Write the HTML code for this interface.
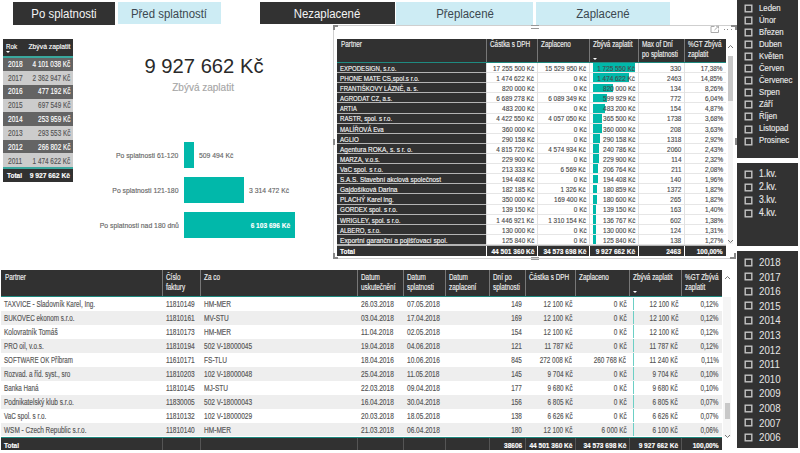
<!DOCTYPE html>
<html><head><meta charset="utf-8"><style>
html,body{margin:0;padding:0;}
body{width:800px;height:453px;position:relative;overflow:hidden;background:#ffffff;font-family:"Liberation Sans", sans-serif;}
body div{position:absolute;box-sizing:content-box;}
.t{white-space:nowrap;line-height:1.2;-webkit-text-stroke:0.15px currentColor;}
</style></head><body>
<div style="left:13.00px;top:2.00px;width:102.00px;height:22.50px;background:#323232;"></div>
<div class="t" style="left:-135.60px;width:400px;text-align:center;top:7.00px;font-size:12px;color:#f4f4f4;font-weight:400;transform:scaleX(0.95);transform-origin:50% 0;-webkit-text-stroke:0;">Po splatnosti</div>
<div style="left:117.50px;top:2.20px;width:103.00px;height:22.10px;background:#cdecf4;"></div>
<div class="t" style="left:-30.55px;width:400px;text-align:center;top:7.00px;font-size:12px;color:#3c4850;font-weight:400;transform:scaleX(0.95);transform-origin:50% 0;-webkit-text-stroke:0;">Před splatností</div>
<div style="left:259.50px;top:2.00px;width:135.00px;height:21.50px;background:#323232;"></div>
<div class="t" style="left:127.25px;width:400px;text-align:center;top:7.00px;font-size:12px;color:#f4f4f4;font-weight:400;transform:scaleX(0.95);transform-origin:50% 0;-webkit-text-stroke:0;">Nezaplacené</div>
<div style="left:396.00px;top:2.00px;width:136.50px;height:22.50px;background:#cdecf4;"></div>
<div class="t" style="left:265.00px;width:400px;text-align:center;top:7.00px;font-size:12px;color:#3c4850;font-weight:400;transform:scaleX(0.95);transform-origin:50% 0;-webkit-text-stroke:0;">Přeplacené</div>
<div style="left:535.75px;top:2.00px;width:134.25px;height:22.50px;background:#cdecf4;"></div>
<div class="t" style="left:402.50px;width:400px;text-align:center;top:7.00px;font-size:12px;color:#3c4850;font-weight:400;transform:scaleX(0.95);transform-origin:50% 0;-webkit-text-stroke:0;">Zaplacené</div>
<div style="left:3.00px;top:39.00px;width:70.00px;height:17.20px;background:#313131;"></div>
<div class="t" style="left:6.00px;top:42.00px;font-size:8px;color:#fff;font-weight:400;transform:scaleX(0.78);transform-origin:0 0;">Rok</div>
<div style="left:6.20px;top:50.60px;width:0;height:0;border-left:2.5px solid transparent;border-right:2.5px solid transparent;border-top:2.6px solid #fff"></div>
<div class="t" style="right:729.50px;top:42.00px;font-size:8px;color:#fff;font-weight:400;transform:scaleX(0.85);transform-origin:100% 0;">Zbývá zaplatit</div>
<div style="left:3.00px;top:57.50px;width:70.00px;height:13.70px;background:#646464;"></div>
<div class="t" style="left:7.90px;top:60.00px;font-size:8.2px;color:#ffffff;font-weight:400;transform:scaleX(0.8);transform-origin:0 0;">2018</div>
<div class="t" style="right:729.50px;top:60.00px;font-size:8.2px;color:#ffffff;font-weight:400;transform:scaleX(0.78);transform-origin:100% 0;">4 101 038 Kč</div>
<div style="left:3.00px;top:71.20px;width:70.00px;height:13.70px;background:#cccccc;"></div>
<div class="t" style="left:7.90px;top:74.00px;font-size:8.2px;color:#555555;font-weight:400;transform:scaleX(0.8);transform-origin:0 0;">2017</div>
<div class="t" style="right:729.50px;top:74.00px;font-size:8.2px;color:#555555;font-weight:400;transform:scaleX(0.78);transform-origin:100% 0;">2 362 947 Kč</div>
<div style="left:3.00px;top:84.90px;width:70.00px;height:13.70px;background:#646464;"></div>
<div class="t" style="left:7.90px;top:87.00px;font-size:8.2px;color:#ffffff;font-weight:400;transform:scaleX(0.8);transform-origin:0 0;">2016</div>
<div class="t" style="right:729.50px;top:87.00px;font-size:8.2px;color:#ffffff;font-weight:400;transform:scaleX(0.78);transform-origin:100% 0;">477 192 Kč</div>
<div style="left:3.00px;top:98.60px;width:70.00px;height:13.70px;background:#cccccc;"></div>
<div class="t" style="left:7.90px;top:101.00px;font-size:8.2px;color:#555555;font-weight:400;transform:scaleX(0.8);transform-origin:0 0;">2015</div>
<div class="t" style="right:729.50px;top:101.00px;font-size:8.2px;color:#555555;font-weight:400;transform:scaleX(0.78);transform-origin:100% 0;">697 549 Kč</div>
<div style="left:3.00px;top:112.30px;width:70.00px;height:13.70px;background:#646464;"></div>
<div class="t" style="left:7.90px;top:115.00px;font-size:8.2px;color:#ffffff;font-weight:400;transform:scaleX(0.8);transform-origin:0 0;">2014</div>
<div class="t" style="right:729.50px;top:115.00px;font-size:8.2px;color:#ffffff;font-weight:400;transform:scaleX(0.78);transform-origin:100% 0;">253 959 Kč</div>
<div style="left:3.00px;top:126.00px;width:70.00px;height:13.70px;background:#cccccc;"></div>
<div class="t" style="left:7.90px;top:129.00px;font-size:8.2px;color:#555555;font-weight:400;transform:scaleX(0.8);transform-origin:0 0;">2013</div>
<div class="t" style="right:729.50px;top:129.00px;font-size:8.2px;color:#555555;font-weight:400;transform:scaleX(0.78);transform-origin:100% 0;">293 553 Kč</div>
<div style="left:3.00px;top:139.70px;width:70.00px;height:13.70px;background:#646464;"></div>
<div class="t" style="left:7.90px;top:143.00px;font-size:8.2px;color:#ffffff;font-weight:400;transform:scaleX(0.8);transform-origin:0 0;">2012</div>
<div class="t" style="right:729.50px;top:143.00px;font-size:8.2px;color:#ffffff;font-weight:400;transform:scaleX(0.78);transform-origin:100% 0;">266 802 Kč</div>
<div style="left:3.00px;top:153.40px;width:70.00px;height:13.70px;background:#cccccc;"></div>
<div class="t" style="left:7.90px;top:157.00px;font-size:8.2px;color:#555555;font-weight:400;transform:scaleX(0.8);transform-origin:0 0;">2011</div>
<div class="t" style="right:729.50px;top:157.00px;font-size:8.2px;color:#555555;font-weight:400;transform:scaleX(0.78);transform-origin:100% 0;">1 474 622 Kč</div>
<div style="left:3.00px;top:56.00px;width:70.00px;height:1.50px;background:#3aa89e;"></div>
<div style="left:3.00px;top:167.10px;width:70.00px;height:1.50px;background:#3aa89e;"></div>
<div style="left:3.00px;top:168.50px;width:70.00px;height:13.40px;background:#313131;"></div>
<div class="t" style="left:7.00px;top:171.00px;font-size:8px;color:#fff;font-weight:700;transform:scaleX(0.81);transform-origin:0 0;">Total</div>
<div class="t" style="right:729.50px;top:171.00px;font-size:8px;color:#fff;font-weight:700;transform:scaleX(0.84);transform-origin:100% 0;">9 927 662 Kč</div>
<div class="t" style="left:4.00px;width:400px;text-align:center;top:54.00px;font-size:20px;color:#2a2a2a;font-weight:400;transform:scaleX(1.01);transform-origin:50% 0;-webkit-text-stroke:0;">9 927 662 Kč</div>
<div class="t" style="left:3.10px;width:400px;text-align:center;top:82.00px;font-size:10px;color:#a6a6a6;font-weight:400;transform:scaleX(1.0);transform-origin:50% 0;">Zbývá zaplatit</div>
<div style="left:184.00px;top:141.60px;width:9.70px;height:26.00px;background:#01b8aa;"></div>
<div class="t" style="right:621.40px;top:151.00px;font-size:7.6px;color:#666;font-weight:400;transform:scaleX(0.9);transform-origin:100% 0;">Po splatnosti 61-120</div>
<div class="t" style="left:199.10px;top:151.00px;font-size:8px;color:#666;font-weight:400;transform:scaleX(0.85);transform-origin:0 0;">509 494 Kč</div>
<div style="left:184.00px;top:177.10px;width:59.80px;height:26.30px;background:#01b8aa;"></div>
<div class="t" style="right:621.40px;top:186.00px;font-size:7.6px;color:#666;font-weight:400;transform:scaleX(0.9);transform-origin:100% 0;">Po splatnosti 121-180</div>
<div class="t" style="left:249.20px;top:186.00px;font-size:8px;color:#666;font-weight:400;transform:scaleX(0.85);transform-origin:0 0;">3 314 472 Kč</div>
<div style="left:184.00px;top:211.80px;width:110.70px;height:26.20px;background:#01b8aa;"></div>
<div class="t" style="right:621.40px;top:221.00px;font-size:7.6px;color:#666;font-weight:400;transform:scaleX(0.9);transform-origin:100% 0;">Po splatnosti nad 180 dnů</div>
<div class="t" style="right:510.00px;top:221.00px;font-size:8px;color:#fff;font-weight:700;transform:scaleX(0.82);transform-origin:100% 0;">6 103 696 Kč</div>
<div style="left:333.00px;top:25.00px;width:1.00px;height:233.00px;background:#cfcfcf;"></div>
<div style="left:333.00px;top:25.00px;width:404.00px;height:1.00px;background:#cfcfcf;"></div>
<div style="left:333.00px;top:257.50px;width:402.00px;height:1.00px;background:#cfcfcf;"></div>
<div style="left:333.00px;top:25.00px;width:5.00px;height:2.00px;background:#888;"></div>
<div style="left:333.00px;top:25.00px;width:2.00px;height:5.00px;background:#888;"></div>
<div style="left:731.00px;top:25.00px;width:6.00px;height:2.00px;background:#888;"></div>
<div style="left:735.00px;top:25.00px;width:2.00px;height:5.00px;background:#888;"></div>
<div style="left:333.00px;top:253.00px;width:2.00px;height:5.00px;background:#888;"></div>
<div style="left:333.00px;top:256.50px;width:5.00px;height:2.00px;background:#888;"></div>
<div style="left:730.00px;top:256.50px;width:6.00px;height:2.00px;background:#888;"></div>
<div style="left:734.00px;top:253.00px;width:2.00px;height:5.00px;background:#888;"></div>
<div style="left:333.00px;top:138.50px;width:2.00px;height:6.50px;background:#888;"></div>
<div style="left:531.00px;top:24.50px;width:8.00px;height:1.20px;background:#999;"></div>
<div style="left:531.00px;top:27.50px;width:8.00px;height:1.20px;background:#999;"></div>
<div style="left:531.00px;top:256.50px;width:8.00px;height:1.20px;background:#999;"></div>
<div style="left:531.00px;top:259.00px;width:8.00px;height:1.20px;background:#999;"></div>
<div style="left:734.50px;top:138.00px;width:2.00px;height:7.00px;background:#888;"></div>
<svg style="position:absolute;left:710px;top:25px" width="10" height="9" viewBox="0 0 10 9"><path d="M4.5 1.5 H1 V7.5 H8.5 V4.5" fill="none" stroke="#aaa" stroke-width="1"/><path d="M4.5 5 L8.5 1.2 M6 1.2 H8.5 V3.5" fill="none" stroke="#aaa" stroke-width="1"/></svg>
<div style="left:723.50px;top:29.30px;width:1.20px;height:1.20px;background:#888;"></div>
<div style="left:727.00px;top:29.30px;width:1.20px;height:1.20px;background:#888;"></div>
<div style="left:730.50px;top:29.30px;width:1.20px;height:1.20px;background:#888;"></div>
<div style="left:337.00px;top:39.20px;width:389.00px;height:22.60px;background:#313131;"></div>
<div style="left:485.50px;top:39.20px;width:1.00px;height:22.60px;background:#777;"></div>
<div style="left:536.90px;top:39.20px;width:1.00px;height:22.60px;background:#777;"></div>
<div style="left:588.90px;top:39.20px;width:1.00px;height:22.60px;background:#777;"></div>
<div style="left:637.80px;top:39.20px;width:1.00px;height:22.60px;background:#777;"></div>
<div style="left:683.80px;top:39.20px;width:1.00px;height:22.60px;background:#777;"></div>
<div class="t" style="left:340.50px;top:40.00px;font-size:8.3px;color:#f0f0f0;font-weight:400;transform:scaleX(0.77);transform-origin:0 0;">Partner</div>
<div class="t" style="left:489.50px;top:40.00px;font-size:8.3px;color:#f0f0f0;font-weight:400;transform:scaleX(0.77);transform-origin:0 0;">Částka s DPH</div>
<div class="t" style="left:540.90px;top:40.00px;font-size:8.3px;color:#f0f0f0;font-weight:400;transform:scaleX(0.77);transform-origin:0 0;">Zaplaceno</div>
<div class="t" style="left:592.90px;top:40.00px;font-size:8.3px;color:#f0f0f0;font-weight:400;transform:scaleX(0.77);transform-origin:0 0;">Zbývá zaplatit</div>
<div class="t" style="left:641.80px;top:40.00px;font-size:8.3px;color:#f0f0f0;font-weight:400;transform:scaleX(0.77);transform-origin:0 0;">Max of Dní</div>
<div class="t" style="left:641.80px;top:50.00px;font-size:8.3px;color:#f0f0f0;font-weight:400;transform:scaleX(0.77);transform-origin:0 0;">po splatnosti</div>
<div class="t" style="left:687.80px;top:40.00px;font-size:8.3px;color:#f0f0f0;font-weight:400;transform:scaleX(0.77);transform-origin:0 0;">%GT Zbývá</div>
<div class="t" style="left:687.80px;top:50.00px;font-size:8.3px;color:#f0f0f0;font-weight:400;transform:scaleX(0.77);transform-origin:0 0;">zaplatit</div>
<div style="left:592.80px;top:58.00px;width:0;height:0;border-left:2.8px solid transparent;border-right:2.8px solid transparent;border-top:2.8px solid #fff"></div>
<div style="left:486.00px;top:63.00px;width:240.00px;height:181.98px;background:#ffffff;"></div>
<div style="left:337.00px;top:63.00px;width:149.00px;height:10.11px;background:#313131;"></div>
<div style="left:337.00px;top:72.11px;width:149.00px;height:1.00px;background:#b4b4b4;"></div>
<div style="left:486.00px;top:72.11px;width:240.00px;height:1.00px;background:#e6e6e6;"></div>
<div style="left:593.00px;top:63.30px;width:41.60px;height:8.81px;background:#01b8aa;"></div>
<div class="t" style="left:339.80px;top:64.00px;font-size:8.0px;color:#f6f6f6;font-weight:400;transform:scaleX(0.754);transform-origin:0 0;">EXPODESIGN, s.r.o.</div>
<div class="t" style="right:265.90px;top:64.00px;font-size:7.8px;color:#4a4a4a;font-weight:400;transform:scaleX(0.82);transform-origin:100% 0;">17 255 500 Kč</div>
<div class="t" style="right:213.90px;top:64.00px;font-size:7.8px;color:#4a4a4a;font-weight:400;transform:scaleX(0.82);transform-origin:100% 0;">15 529 950 Kč</div>
<div class="t" style="right:165.00px;top:64.00px;font-size:7.8px;color:#4a4a4a;font-weight:400;transform:scaleX(0.82);transform-origin:100% 0;">1 725 550 Kč</div>
<div class="t" style="right:119.00px;top:64.00px;font-size:7.8px;color:#4a4a4a;font-weight:400;transform:scaleX(0.82);transform-origin:100% 0;">330</div>
<div class="t" style="right:77.30px;top:64.00px;font-size:7.8px;color:#4a4a4a;font-weight:400;transform:scaleX(0.82);transform-origin:100% 0;">17,38%</div>
<div style="left:337.00px;top:73.11px;width:149.00px;height:10.11px;background:#313131;"></div>
<div style="left:337.00px;top:82.22px;width:149.00px;height:1.00px;background:#b4b4b4;"></div>
<div style="left:486.00px;top:82.22px;width:240.00px;height:1.00px;background:#e6e6e6;"></div>
<div style="left:593.00px;top:73.41px;width:35.55px;height:8.81px;background:#01b8aa;"></div>
<div class="t" style="left:339.80px;top:74.00px;font-size:8.0px;color:#f6f6f6;font-weight:400;transform:scaleX(0.777);transform-origin:0 0;">PHONE MATE CS,spol.s r.o.</div>
<div class="t" style="right:265.90px;top:74.00px;font-size:7.8px;color:#4a4a4a;font-weight:400;transform:scaleX(0.82);transform-origin:100% 0;">1 474 622 Kč</div>
<div class="t" style="right:213.90px;top:74.00px;font-size:7.8px;color:#4a4a4a;font-weight:400;transform:scaleX(0.82);transform-origin:100% 0;">0 Kč</div>
<div class="t" style="right:165.00px;top:74.00px;font-size:7.8px;color:#4a4a4a;font-weight:400;transform:scaleX(0.82);transform-origin:100% 0;">1 474 622 Kč</div>
<div class="t" style="right:119.00px;top:74.00px;font-size:7.8px;color:#4a4a4a;font-weight:400;transform:scaleX(0.82);transform-origin:100% 0;">2463</div>
<div class="t" style="right:77.30px;top:74.00px;font-size:7.8px;color:#4a4a4a;font-weight:400;transform:scaleX(0.82);transform-origin:100% 0;">14,85%</div>
<div style="left:337.00px;top:83.22px;width:149.00px;height:10.11px;background:#313131;"></div>
<div style="left:337.00px;top:92.33px;width:149.00px;height:1.00px;background:#b4b4b4;"></div>
<div style="left:486.00px;top:92.33px;width:240.00px;height:1.00px;background:#e6e6e6;"></div>
<div style="left:593.00px;top:83.52px;width:19.77px;height:8.81px;background:#01b8aa;"></div>
<div class="t" style="left:339.80px;top:84.00px;font-size:8.0px;color:#f6f6f6;font-weight:400;transform:scaleX(0.753);transform-origin:0 0;">FRANTIŠKOVY LÁZNĚ, a. s.</div>
<div class="t" style="right:265.90px;top:84.00px;font-size:7.8px;color:#4a4a4a;font-weight:400;transform:scaleX(0.82);transform-origin:100% 0;">820 000 Kč</div>
<div class="t" style="right:213.90px;top:84.00px;font-size:7.8px;color:#4a4a4a;font-weight:400;transform:scaleX(0.82);transform-origin:100% 0;">0 Kč</div>
<div class="t" style="right:165.00px;top:84.00px;font-size:7.8px;color:#4a4a4a;font-weight:400;transform:scaleX(0.82);transform-origin:100% 0;">820 000 Kč</div>
<div class="t" style="right:119.00px;top:84.00px;font-size:7.8px;color:#4a4a4a;font-weight:400;transform:scaleX(0.82);transform-origin:100% 0;">134</div>
<div class="t" style="right:77.30px;top:84.00px;font-size:7.8px;color:#4a4a4a;font-weight:400;transform:scaleX(0.82);transform-origin:100% 0;">8,26%</div>
<div style="left:337.00px;top:93.33px;width:149.00px;height:10.11px;background:#313131;"></div>
<div style="left:337.00px;top:102.44px;width:149.00px;height:1.00px;background:#b4b4b4;"></div>
<div style="left:486.00px;top:102.44px;width:240.00px;height:1.00px;background:#e6e6e6;"></div>
<div style="left:593.00px;top:93.63px;width:14.46px;height:8.81px;background:#01b8aa;"></div>
<div class="t" style="left:339.80px;top:94.00px;font-size:8.0px;color:#f6f6f6;font-weight:400;transform:scaleX(0.757);transform-origin:0 0;">AGRODAT CZ, a.s.</div>
<div class="t" style="right:265.90px;top:94.00px;font-size:7.8px;color:#4a4a4a;font-weight:400;transform:scaleX(0.82);transform-origin:100% 0;">6 689 278 Kč</div>
<div class="t" style="right:213.90px;top:94.00px;font-size:7.8px;color:#4a4a4a;font-weight:400;transform:scaleX(0.82);transform-origin:100% 0;">6 089 349 Kč</div>
<div class="t" style="right:165.00px;top:94.00px;font-size:7.8px;color:#4a4a4a;font-weight:400;transform:scaleX(0.82);transform-origin:100% 0;">599 929 Kč</div>
<div class="t" style="right:119.00px;top:94.00px;font-size:7.8px;color:#4a4a4a;font-weight:400;transform:scaleX(0.82);transform-origin:100% 0;">772</div>
<div class="t" style="right:77.30px;top:94.00px;font-size:7.8px;color:#4a4a4a;font-weight:400;transform:scaleX(0.82);transform-origin:100% 0;">6,04%</div>
<div style="left:337.00px;top:103.44px;width:149.00px;height:10.11px;background:#313131;"></div>
<div style="left:337.00px;top:112.55px;width:149.00px;height:1.00px;background:#b4b4b4;"></div>
<div style="left:486.00px;top:112.55px;width:240.00px;height:1.00px;background:#e6e6e6;"></div>
<div style="left:593.00px;top:103.74px;width:11.65px;height:8.81px;background:#01b8aa;"></div>
<div class="t" style="left:339.80px;top:104.00px;font-size:8.0px;color:#f6f6f6;font-weight:400;transform:scaleX(0.713);transform-origin:0 0;">ARTIA</div>
<div class="t" style="right:265.90px;top:104.00px;font-size:7.8px;color:#4a4a4a;font-weight:400;transform:scaleX(0.82);transform-origin:100% 0;">483 200 Kč</div>
<div class="t" style="right:213.90px;top:104.00px;font-size:7.8px;color:#4a4a4a;font-weight:400;transform:scaleX(0.82);transform-origin:100% 0;">0 Kč</div>
<div class="t" style="right:165.00px;top:104.00px;font-size:7.8px;color:#4a4a4a;font-weight:400;transform:scaleX(0.82);transform-origin:100% 0;">483 200 Kč</div>
<div class="t" style="right:119.00px;top:104.00px;font-size:7.8px;color:#4a4a4a;font-weight:400;transform:scaleX(0.82);transform-origin:100% 0;">154</div>
<div class="t" style="right:77.30px;top:104.00px;font-size:7.8px;color:#4a4a4a;font-weight:400;transform:scaleX(0.82);transform-origin:100% 0;">4,87%</div>
<div style="left:337.00px;top:113.55px;width:149.00px;height:10.11px;background:#313131;"></div>
<div style="left:337.00px;top:122.66px;width:149.00px;height:1.00px;background:#b4b4b4;"></div>
<div style="left:486.00px;top:122.66px;width:240.00px;height:1.00px;background:#e6e6e6;"></div>
<div style="left:593.00px;top:113.85px;width:8.81px;height:8.81px;background:#01b8aa;"></div>
<div class="t" style="left:339.80px;top:114.00px;font-size:8.0px;color:#f6f6f6;font-weight:400;transform:scaleX(0.768);transform-origin:0 0;">RASTR, spol. s r.o.</div>
<div class="t" style="right:265.90px;top:114.00px;font-size:7.8px;color:#4a4a4a;font-weight:400;transform:scaleX(0.82);transform-origin:100% 0;">4 422 550 Kč</div>
<div class="t" style="right:213.90px;top:114.00px;font-size:7.8px;color:#4a4a4a;font-weight:400;transform:scaleX(0.82);transform-origin:100% 0;">4 057 050 Kč</div>
<div class="t" style="right:165.00px;top:114.00px;font-size:7.8px;color:#4a4a4a;font-weight:400;transform:scaleX(0.82);transform-origin:100% 0;">365 500 Kč</div>
<div class="t" style="right:119.00px;top:114.00px;font-size:7.8px;color:#4a4a4a;font-weight:400;transform:scaleX(0.82);transform-origin:100% 0;">1738</div>
<div class="t" style="right:77.30px;top:114.00px;font-size:7.8px;color:#4a4a4a;font-weight:400;transform:scaleX(0.82);transform-origin:100% 0;">3,68%</div>
<div style="left:337.00px;top:123.66px;width:149.00px;height:10.11px;background:#313131;"></div>
<div style="left:337.00px;top:132.77px;width:149.00px;height:1.00px;background:#b4b4b4;"></div>
<div style="left:486.00px;top:132.77px;width:240.00px;height:1.00px;background:#e6e6e6;"></div>
<div style="left:593.00px;top:123.96px;width:8.68px;height:8.81px;background:#01b8aa;"></div>
<div class="t" style="left:339.80px;top:125.00px;font-size:8.0px;color:#f6f6f6;font-weight:400;transform:scaleX(0.762);transform-origin:0 0;">MALÍŘOVÁ Eva</div>
<div class="t" style="right:265.90px;top:125.00px;font-size:7.8px;color:#4a4a4a;font-weight:400;transform:scaleX(0.82);transform-origin:100% 0;">360 000 Kč</div>
<div class="t" style="right:213.90px;top:125.00px;font-size:7.8px;color:#4a4a4a;font-weight:400;transform:scaleX(0.82);transform-origin:100% 0;">0 Kč</div>
<div class="t" style="right:165.00px;top:125.00px;font-size:7.8px;color:#4a4a4a;font-weight:400;transform:scaleX(0.82);transform-origin:100% 0;">360 000 Kč</div>
<div class="t" style="right:119.00px;top:125.00px;font-size:7.8px;color:#4a4a4a;font-weight:400;transform:scaleX(0.82);transform-origin:100% 0;">208</div>
<div class="t" style="right:77.30px;top:125.00px;font-size:7.8px;color:#4a4a4a;font-weight:400;transform:scaleX(0.82);transform-origin:100% 0;">3,63%</div>
<div style="left:337.00px;top:133.77px;width:149.00px;height:10.11px;background:#313131;"></div>
<div style="left:337.00px;top:142.88px;width:149.00px;height:1.00px;background:#b4b4b4;"></div>
<div style="left:486.00px;top:142.88px;width:240.00px;height:1.00px;background:#e6e6e6;"></div>
<div style="left:593.00px;top:134.07px;width:7.00px;height:8.81px;background:#01b8aa;"></div>
<div class="t" style="left:339.80px;top:135.00px;font-size:8.0px;color:#f6f6f6;font-weight:400;transform:scaleX(0.771);transform-origin:0 0;">AGLIO</div>
<div class="t" style="right:265.90px;top:135.00px;font-size:7.8px;color:#4a4a4a;font-weight:400;transform:scaleX(0.82);transform-origin:100% 0;">290 158 Kč</div>
<div class="t" style="right:213.90px;top:135.00px;font-size:7.8px;color:#4a4a4a;font-weight:400;transform:scaleX(0.82);transform-origin:100% 0;">0 Kč</div>
<div class="t" style="right:165.00px;top:135.00px;font-size:7.8px;color:#4a4a4a;font-weight:400;transform:scaleX(0.82);transform-origin:100% 0;">290 158 Kč</div>
<div class="t" style="right:119.00px;top:135.00px;font-size:7.8px;color:#4a4a4a;font-weight:400;transform:scaleX(0.82);transform-origin:100% 0;">1318</div>
<div class="t" style="right:77.30px;top:135.00px;font-size:7.8px;color:#4a4a4a;font-weight:400;transform:scaleX(0.82);transform-origin:100% 0;">2,92%</div>
<div style="left:337.00px;top:143.88px;width:149.00px;height:10.11px;background:#313131;"></div>
<div style="left:337.00px;top:152.99px;width:149.00px;height:1.00px;background:#b4b4b4;"></div>
<div style="left:486.00px;top:152.99px;width:240.00px;height:1.00px;background:#e6e6e6;"></div>
<div style="left:593.00px;top:144.18px;width:5.80px;height:8.81px;background:#01b8aa;"></div>
<div class="t" style="left:339.80px;top:145.00px;font-size:8.0px;color:#f6f6f6;font-weight:400;transform:scaleX(0.808);transform-origin:0 0;">Agentura ROKA, s. s r. o.</div>
<div class="t" style="right:265.90px;top:145.00px;font-size:7.8px;color:#4a4a4a;font-weight:400;transform:scaleX(0.82);transform-origin:100% 0;">4 815 720 Kč</div>
<div class="t" style="right:213.90px;top:145.00px;font-size:7.8px;color:#4a4a4a;font-weight:400;transform:scaleX(0.82);transform-origin:100% 0;">4 574 934 Kč</div>
<div class="t" style="right:165.00px;top:145.00px;font-size:7.8px;color:#4a4a4a;font-weight:400;transform:scaleX(0.82);transform-origin:100% 0;">240 786 Kč</div>
<div class="t" style="right:119.00px;top:145.00px;font-size:7.8px;color:#4a4a4a;font-weight:400;transform:scaleX(0.82);transform-origin:100% 0;">2060</div>
<div class="t" style="right:77.30px;top:145.00px;font-size:7.8px;color:#4a4a4a;font-weight:400;transform:scaleX(0.82);transform-origin:100% 0;">2,43%</div>
<div style="left:337.00px;top:153.99px;width:149.00px;height:10.11px;background:#313131;"></div>
<div style="left:337.00px;top:163.10px;width:149.00px;height:1.00px;background:#b4b4b4;"></div>
<div style="left:486.00px;top:163.10px;width:240.00px;height:1.00px;background:#e6e6e6;"></div>
<div style="left:593.00px;top:154.29px;width:5.54px;height:8.81px;background:#01b8aa;"></div>
<div class="t" style="left:339.80px;top:155.00px;font-size:8.0px;color:#f6f6f6;font-weight:400;transform:scaleX(0.78);transform-origin:0 0;">MARZA, v.o.s.</div>
<div class="t" style="right:265.90px;top:155.00px;font-size:7.8px;color:#4a4a4a;font-weight:400;transform:scaleX(0.82);transform-origin:100% 0;">229 900 Kč</div>
<div class="t" style="right:213.90px;top:155.00px;font-size:7.8px;color:#4a4a4a;font-weight:400;transform:scaleX(0.82);transform-origin:100% 0;">0 Kč</div>
<div class="t" style="right:165.00px;top:155.00px;font-size:7.8px;color:#4a4a4a;font-weight:400;transform:scaleX(0.82);transform-origin:100% 0;">229 900 Kč</div>
<div class="t" style="right:119.00px;top:155.00px;font-size:7.8px;color:#4a4a4a;font-weight:400;transform:scaleX(0.82);transform-origin:100% 0;">114</div>
<div class="t" style="right:77.30px;top:155.00px;font-size:7.8px;color:#4a4a4a;font-weight:400;transform:scaleX(0.82);transform-origin:100% 0;">2,32%</div>
<div style="left:337.00px;top:164.10px;width:149.00px;height:10.11px;background:#313131;"></div>
<div style="left:337.00px;top:173.21px;width:149.00px;height:1.00px;background:#b4b4b4;"></div>
<div style="left:486.00px;top:173.21px;width:240.00px;height:1.00px;background:#e6e6e6;"></div>
<div style="left:593.00px;top:164.40px;width:4.98px;height:8.81px;background:#01b8aa;"></div>
<div class="t" style="left:339.80px;top:165.00px;font-size:8.0px;color:#f6f6f6;font-weight:400;transform:scaleX(0.804);transform-origin:0 0;">VaC spol. s r.o.</div>
<div class="t" style="right:265.90px;top:165.00px;font-size:7.8px;color:#4a4a4a;font-weight:400;transform:scaleX(0.82);transform-origin:100% 0;">213 333 Kč</div>
<div class="t" style="right:213.90px;top:165.00px;font-size:7.8px;color:#4a4a4a;font-weight:400;transform:scaleX(0.82);transform-origin:100% 0;">6 569 Kč</div>
<div class="t" style="right:165.00px;top:165.00px;font-size:7.8px;color:#4a4a4a;font-weight:400;transform:scaleX(0.82);transform-origin:100% 0;">206 764 Kč</div>
<div class="t" style="right:119.00px;top:165.00px;font-size:7.8px;color:#4a4a4a;font-weight:400;transform:scaleX(0.82);transform-origin:100% 0;">211</div>
<div class="t" style="right:77.30px;top:165.00px;font-size:7.8px;color:#4a4a4a;font-weight:400;transform:scaleX(0.82);transform-origin:100% 0;">2,08%</div>
<div style="left:337.00px;top:174.21px;width:149.00px;height:10.11px;background:#313131;"></div>
<div style="left:337.00px;top:183.32px;width:149.00px;height:1.00px;background:#b4b4b4;"></div>
<div style="left:486.00px;top:183.32px;width:240.00px;height:1.00px;background:#e6e6e6;"></div>
<div style="left:593.00px;top:174.51px;width:4.69px;height:8.81px;background:#01b8aa;"></div>
<div class="t" style="left:339.80px;top:175.00px;font-size:8.0px;color:#f6f6f6;font-weight:400;transform:scaleX(0.8);transform-origin:0 0;">S.A.S. Stavební akciová společnost</div>
<div class="t" style="right:265.90px;top:175.00px;font-size:7.8px;color:#4a4a4a;font-weight:400;transform:scaleX(0.82);transform-origin:100% 0;">194 408 Kč</div>
<div class="t" style="right:213.90px;top:175.00px;font-size:7.8px;color:#4a4a4a;font-weight:400;transform:scaleX(0.82);transform-origin:100% 0;">0 Kč</div>
<div class="t" style="right:165.00px;top:175.00px;font-size:7.8px;color:#4a4a4a;font-weight:400;transform:scaleX(0.82);transform-origin:100% 0;">194 408 Kč</div>
<div class="t" style="right:119.00px;top:175.00px;font-size:7.8px;color:#4a4a4a;font-weight:400;transform:scaleX(0.82);transform-origin:100% 0;">140</div>
<div class="t" style="right:77.30px;top:175.00px;font-size:7.8px;color:#4a4a4a;font-weight:400;transform:scaleX(0.82);transform-origin:100% 0;">1,96%</div>
<div style="left:337.00px;top:184.32px;width:149.00px;height:10.11px;background:#313131;"></div>
<div style="left:337.00px;top:193.43px;width:149.00px;height:1.00px;background:#b4b4b4;"></div>
<div style="left:486.00px;top:193.43px;width:240.00px;height:1.00px;background:#e6e6e6;"></div>
<div style="left:593.00px;top:184.62px;width:4.36px;height:8.81px;background:#01b8aa;"></div>
<div class="t" style="left:339.80px;top:185.00px;font-size:8.0px;color:#f6f6f6;font-weight:400;transform:scaleX(0.817);transform-origin:0 0;">Gajdošíková Darina</div>
<div class="t" style="right:265.90px;top:185.00px;font-size:7.8px;color:#4a4a4a;font-weight:400;transform:scaleX(0.82);transform-origin:100% 0;">182 185 Kč</div>
<div class="t" style="right:213.90px;top:185.00px;font-size:7.8px;color:#4a4a4a;font-weight:400;transform:scaleX(0.82);transform-origin:100% 0;">1 326 Kč</div>
<div class="t" style="right:165.00px;top:185.00px;font-size:7.8px;color:#4a4a4a;font-weight:400;transform:scaleX(0.82);transform-origin:100% 0;">180 859 Kč</div>
<div class="t" style="right:119.00px;top:185.00px;font-size:7.8px;color:#4a4a4a;font-weight:400;transform:scaleX(0.82);transform-origin:100% 0;">1372</div>
<div class="t" style="right:77.30px;top:185.00px;font-size:7.8px;color:#4a4a4a;font-weight:400;transform:scaleX(0.82);transform-origin:100% 0;">1,82%</div>
<div style="left:337.00px;top:194.43px;width:149.00px;height:10.11px;background:#313131;"></div>
<div style="left:337.00px;top:203.54px;width:149.00px;height:1.00px;background:#b4b4b4;"></div>
<div style="left:486.00px;top:203.54px;width:240.00px;height:1.00px;background:#e6e6e6;"></div>
<div style="left:593.00px;top:194.73px;width:4.35px;height:8.81px;background:#01b8aa;"></div>
<div class="t" style="left:339.80px;top:195.00px;font-size:8.0px;color:#f6f6f6;font-weight:400;transform:scaleX(0.791);transform-origin:0 0;">PLACHÝ Karel ing.</div>
<div class="t" style="right:265.90px;top:195.00px;font-size:7.8px;color:#4a4a4a;font-weight:400;transform:scaleX(0.82);transform-origin:100% 0;">350 000 Kč</div>
<div class="t" style="right:213.90px;top:195.00px;font-size:7.8px;color:#4a4a4a;font-weight:400;transform:scaleX(0.82);transform-origin:100% 0;">169 400 Kč</div>
<div class="t" style="right:165.00px;top:195.00px;font-size:7.8px;color:#4a4a4a;font-weight:400;transform:scaleX(0.82);transform-origin:100% 0;">180 600 Kč</div>
<div class="t" style="right:119.00px;top:195.00px;font-size:7.8px;color:#4a4a4a;font-weight:400;transform:scaleX(0.82);transform-origin:100% 0;">265</div>
<div class="t" style="right:77.30px;top:195.00px;font-size:7.8px;color:#4a4a4a;font-weight:400;transform:scaleX(0.82);transform-origin:100% 0;">1,82%</div>
<div style="left:337.00px;top:204.54px;width:149.00px;height:10.11px;background:#313131;"></div>
<div style="left:337.00px;top:213.65px;width:149.00px;height:1.00px;background:#b4b4b4;"></div>
<div style="left:486.00px;top:213.65px;width:240.00px;height:1.00px;background:#e6e6e6;"></div>
<div style="left:593.00px;top:204.84px;width:3.35px;height:8.81px;background:#01b8aa;"></div>
<div class="t" style="left:339.80px;top:205.00px;font-size:8.0px;color:#f6f6f6;font-weight:400;transform:scaleX(0.784);transform-origin:0 0;">GORDEX spol. s r.o.</div>
<div class="t" style="right:265.90px;top:205.00px;font-size:7.8px;color:#4a4a4a;font-weight:400;transform:scaleX(0.82);transform-origin:100% 0;">139 150 Kč</div>
<div class="t" style="right:213.90px;top:205.00px;font-size:7.8px;color:#4a4a4a;font-weight:400;transform:scaleX(0.82);transform-origin:100% 0;">0 Kč</div>
<div class="t" style="right:165.00px;top:205.00px;font-size:7.8px;color:#4a4a4a;font-weight:400;transform:scaleX(0.82);transform-origin:100% 0;">139 150 Kč</div>
<div class="t" style="right:119.00px;top:205.00px;font-size:7.8px;color:#4a4a4a;font-weight:400;transform:scaleX(0.82);transform-origin:100% 0;">163</div>
<div class="t" style="right:77.30px;top:205.00px;font-size:7.8px;color:#4a4a4a;font-weight:400;transform:scaleX(0.82);transform-origin:100% 0;">1,40%</div>
<div style="left:337.00px;top:214.65px;width:149.00px;height:10.11px;background:#313131;"></div>
<div style="left:337.00px;top:223.76px;width:149.00px;height:1.00px;background:#b4b4b4;"></div>
<div style="left:486.00px;top:223.76px;width:240.00px;height:1.00px;background:#e6e6e6;"></div>
<div style="left:593.00px;top:214.95px;width:3.30px;height:8.81px;background:#01b8aa;"></div>
<div class="t" style="left:339.80px;top:216.00px;font-size:8.0px;color:#f6f6f6;font-weight:400;transform:scaleX(0.788);transform-origin:0 0;">WRIGLEY, spol. s r.o.</div>
<div class="t" style="right:265.90px;top:216.00px;font-size:7.8px;color:#4a4a4a;font-weight:400;transform:scaleX(0.82);transform-origin:100% 0;">1 446 921 Kč</div>
<div class="t" style="right:213.90px;top:216.00px;font-size:7.8px;color:#4a4a4a;font-weight:400;transform:scaleX(0.82);transform-origin:100% 0;">1 310 154 Kč</div>
<div class="t" style="right:165.00px;top:216.00px;font-size:7.8px;color:#4a4a4a;font-weight:400;transform:scaleX(0.82);transform-origin:100% 0;">136 767 Kč</div>
<div class="t" style="right:119.00px;top:216.00px;font-size:7.8px;color:#4a4a4a;font-weight:400;transform:scaleX(0.82);transform-origin:100% 0;">602</div>
<div class="t" style="right:77.30px;top:216.00px;font-size:7.8px;color:#4a4a4a;font-weight:400;transform:scaleX(0.82);transform-origin:100% 0;">1,38%</div>
<div style="left:337.00px;top:224.76px;width:149.00px;height:10.11px;background:#313131;"></div>
<div style="left:337.00px;top:233.87px;width:149.00px;height:1.00px;background:#b4b4b4;"></div>
<div style="left:486.00px;top:233.87px;width:240.00px;height:1.00px;background:#e6e6e6;"></div>
<div style="left:593.00px;top:225.06px;width:3.13px;height:8.81px;background:#01b8aa;"></div>
<div class="t" style="left:339.80px;top:226.00px;font-size:8.0px;color:#f6f6f6;font-weight:400;transform:scaleX(0.752);transform-origin:0 0;">ALBERO, s.r.o.</div>
<div class="t" style="right:265.90px;top:226.00px;font-size:7.8px;color:#4a4a4a;font-weight:400;transform:scaleX(0.82);transform-origin:100% 0;">130 000 Kč</div>
<div class="t" style="right:213.90px;top:226.00px;font-size:7.8px;color:#4a4a4a;font-weight:400;transform:scaleX(0.82);transform-origin:100% 0;">0 Kč</div>
<div class="t" style="right:165.00px;top:226.00px;font-size:7.8px;color:#4a4a4a;font-weight:400;transform:scaleX(0.82);transform-origin:100% 0;">130 000 Kč</div>
<div class="t" style="right:119.00px;top:226.00px;font-size:7.8px;color:#4a4a4a;font-weight:400;transform:scaleX(0.82);transform-origin:100% 0;">124</div>
<div class="t" style="right:77.30px;top:226.00px;font-size:7.8px;color:#4a4a4a;font-weight:400;transform:scaleX(0.82);transform-origin:100% 0;">1,31%</div>
<div style="left:337.00px;top:234.87px;width:149.00px;height:10.11px;background:#313131;"></div>
<div style="left:337.00px;top:243.98px;width:149.00px;height:1.00px;background:#b4b4b4;"></div>
<div style="left:486.00px;top:243.98px;width:240.00px;height:1.00px;background:#e6e6e6;"></div>
<div style="left:593.00px;top:235.17px;width:3.03px;height:8.81px;background:#01b8aa;"></div>
<div class="t" style="left:339.80px;top:236.00px;font-size:8.0px;color:#f6f6f6;font-weight:400;transform:scaleX(0.829);transform-origin:0 0;">Exportní garanční a pojišťovací spol.</div>
<div class="t" style="right:265.90px;top:236.00px;font-size:7.8px;color:#4a4a4a;font-weight:400;transform:scaleX(0.82);transform-origin:100% 0;">125 840 Kč</div>
<div class="t" style="right:213.90px;top:236.00px;font-size:7.8px;color:#4a4a4a;font-weight:400;transform:scaleX(0.82);transform-origin:100% 0;">0 Kč</div>
<div class="t" style="right:165.00px;top:236.00px;font-size:7.8px;color:#4a4a4a;font-weight:400;transform:scaleX(0.82);transform-origin:100% 0;">125 840 Kč</div>
<div class="t" style="right:119.00px;top:236.00px;font-size:7.8px;color:#4a4a4a;font-weight:400;transform:scaleX(0.82);transform-origin:100% 0;">138</div>
<div class="t" style="right:77.30px;top:236.00px;font-size:7.8px;color:#4a4a4a;font-weight:400;transform:scaleX(0.82);transform-origin:100% 0;">1,27%</div>
<div style="left:485.50px;top:63.00px;width:1.00px;height:181.98px;background:#e2e2e2;"></div>
<div style="left:536.90px;top:63.00px;width:1.00px;height:181.98px;background:#e2e2e2;"></div>
<div style="left:588.90px;top:63.00px;width:1.00px;height:181.98px;background:#e2e2e2;"></div>
<div style="left:637.80px;top:63.00px;width:1.00px;height:181.98px;background:#e2e2e2;"></div>
<div style="left:683.80px;top:63.00px;width:1.00px;height:181.98px;background:#e2e2e2;"></div>
<div style="left:337.00px;top:61.80px;width:389.00px;height:1.00px;background:#1f8a80;"></div>
<div style="left:337.00px;top:245.00px;width:389.00px;height:1.30px;background:#b4b4b4;"></div>
<div style="left:337.00px;top:246.30px;width:149.00px;height:9.30px;background:#313131;"></div>
<div style="left:487.00px;top:246.30px;width:50.40px;height:9.30px;background:#313131;"></div>
<div style="left:538.40px;top:246.30px;width:51.00px;height:9.30px;background:#313131;"></div>
<div style="left:590.40px;top:246.30px;width:47.90px;height:9.30px;background:#313131;"></div>
<div style="left:639.30px;top:246.30px;width:45.00px;height:9.30px;background:#313131;"></div>
<div style="left:685.30px;top:246.30px;width:40.70px;height:9.30px;background:#313131;"></div>
<div class="t" style="left:339.80px;top:247.00px;font-size:8px;color:#fff;font-weight:700;transform:scaleX(0.81);transform-origin:0 0;">Total</div>
<div class="t" style="right:265.90px;top:247.00px;font-size:8px;color:#fff;font-weight:700;transform:scaleX(0.82);transform-origin:100% 0;">44 501 360 Kč</div>
<div class="t" style="right:213.90px;top:247.00px;font-size:8px;color:#fff;font-weight:700;transform:scaleX(0.82);transform-origin:100% 0;">34 573 698 Kč</div>
<div class="t" style="right:165.00px;top:247.00px;font-size:8px;color:#fff;font-weight:700;transform:scaleX(0.82);transform-origin:100% 0;">9 927 662 Kč</div>
<div class="t" style="right:119.00px;top:247.00px;font-size:8px;color:#fff;font-weight:700;transform:scaleX(0.82);transform-origin:100% 0;">2463</div>
<div class="t" style="right:77.30px;top:247.00px;font-size:8px;color:#fff;font-weight:700;transform:scaleX(0.82);transform-origin:100% 0;">100,00%</div>
<div style="left:727.60px;top:56.00px;width:5.50px;height:188.00px;background:#f3f3f3;"></div>
<div style="left:727.60px;top:56.00px;width:5.50px;height:45.00px;background:#c8c8c8;"></div>
<svg style="position:absolute;left:727px;top:44px" width="7" height="5" viewBox="0 0 7 5"><path d="M1 4 L3.5 1.5 L6 4" fill="none" stroke="#777" stroke-width="1"/></svg>
<svg style="position:absolute;left:727px;top:239px" width="7" height="5" viewBox="0 0 7 5"><path d="M1 1 L3.5 3.5 L6 1" fill="none" stroke="#777" stroke-width="1"/></svg>
<div style="left:1.00px;top:270.40px;width:721.00px;height:25.60px;background:#313131;"></div>
<div style="left:162.00px;top:270.40px;width:1.00px;height:25.60px;background:#777;"></div>
<div style="left:200.00px;top:270.40px;width:1.00px;height:25.60px;background:#777;"></div>
<div style="left:356.90px;top:270.40px;width:1.00px;height:25.60px;background:#777;"></div>
<div style="left:403.10px;top:270.40px;width:1.00px;height:25.60px;background:#777;"></div>
<div style="left:444.50px;top:270.40px;width:1.00px;height:25.60px;background:#777;"></div>
<div style="left:489.00px;top:270.40px;width:1.00px;height:25.60px;background:#777;"></div>
<div style="left:525.00px;top:270.40px;width:1.00px;height:25.60px;background:#777;"></div>
<div style="left:575.30px;top:270.40px;width:1.00px;height:25.60px;background:#777;"></div>
<div style="left:629.30px;top:270.40px;width:1.00px;height:25.60px;background:#777;"></div>
<div style="left:681.20px;top:270.40px;width:1.00px;height:25.60px;background:#777;"></div>
<div class="t" style="left:4.50px;top:273.00px;font-size:8.3px;color:#f0f0f0;font-weight:400;transform:scaleX(0.77);transform-origin:0 0;">Partner</div>
<div class="t" style="left:166.00px;top:273.00px;font-size:8.3px;color:#f0f0f0;font-weight:400;transform:scaleX(0.77);transform-origin:0 0;">Číslo</div>
<div class="t" style="left:166.00px;top:283.00px;font-size:8.3px;color:#f0f0f0;font-weight:400;transform:scaleX(0.77);transform-origin:0 0;">faktury</div>
<div class="t" style="left:204.00px;top:273.00px;font-size:8.3px;color:#f0f0f0;font-weight:400;transform:scaleX(0.77);transform-origin:0 0;">Za co</div>
<div class="t" style="left:360.90px;top:273.00px;font-size:8.3px;color:#f0f0f0;font-weight:400;transform:scaleX(0.77);transform-origin:0 0;">Datum</div>
<div class="t" style="left:360.90px;top:283.00px;font-size:8.3px;color:#f0f0f0;font-weight:400;transform:scaleX(0.77);transform-origin:0 0;">uskutečnění</div>
<div class="t" style="left:407.10px;top:273.00px;font-size:8.3px;color:#f0f0f0;font-weight:400;transform:scaleX(0.77);transform-origin:0 0;">Datum</div>
<div class="t" style="left:407.10px;top:283.00px;font-size:8.3px;color:#f0f0f0;font-weight:400;transform:scaleX(0.77);transform-origin:0 0;">splatnosti</div>
<div class="t" style="left:448.50px;top:273.00px;font-size:8.3px;color:#f0f0f0;font-weight:400;transform:scaleX(0.77);transform-origin:0 0;">Datum</div>
<div class="t" style="left:448.50px;top:283.00px;font-size:8.3px;color:#f0f0f0;font-weight:400;transform:scaleX(0.77);transform-origin:0 0;">zaplacení</div>
<div class="t" style="left:493.00px;top:273.00px;font-size:8.3px;color:#f0f0f0;font-weight:400;transform:scaleX(0.77);transform-origin:0 0;">Dní po</div>
<div class="t" style="left:493.00px;top:283.00px;font-size:8.3px;color:#f0f0f0;font-weight:400;transform:scaleX(0.77);transform-origin:0 0;">splatnosti</div>
<div class="t" style="left:529.00px;top:273.00px;font-size:8.3px;color:#f0f0f0;font-weight:400;transform:scaleX(0.77);transform-origin:0 0;">Částka s DPH</div>
<div class="t" style="left:579.30px;top:273.00px;font-size:8.3px;color:#f0f0f0;font-weight:400;transform:scaleX(0.77);transform-origin:0 0;">Zaplaceno</div>
<div class="t" style="left:633.30px;top:273.00px;font-size:8.3px;color:#f0f0f0;font-weight:400;transform:scaleX(0.77);transform-origin:0 0;">Zbývá zaplatit</div>
<div class="t" style="left:685.20px;top:273.00px;font-size:8.3px;color:#f0f0f0;font-weight:400;transform:scaleX(0.77);transform-origin:0 0;">%GT Zbývá</div>
<div class="t" style="left:685.20px;top:283.00px;font-size:8.3px;color:#f0f0f0;font-weight:400;transform:scaleX(0.77);transform-origin:0 0;">zaplatit</div>
<div style="left:633.00px;top:291.20px;width:0;height:0;border-left:2.8px solid transparent;border-right:2.8px solid transparent;border-top:2.8px solid #fff"></div>
<div style="left:1.00px;top:297.00px;width:721.00px;height:13.95px;background:#ffffff;"></div>
<div style="left:632.50px;top:297.50px;width:1.20px;height:12.95px;background:#6ccfc5;"></div>
<div class="t" style="left:4.20px;top:300.00px;font-size:8.3px;color:#555;font-weight:400;transform:scaleX(0.767);transform-origin:0 0;">TAXVICE - Sladovník Karel, Ing.</div>
<div class="t" style="left:166.00px;top:300.00px;font-size:8.3px;color:#555;font-weight:400;transform:scaleX(0.79);transform-origin:0 0;">11810149</div>
<div class="t" style="left:204.00px;top:300.00px;font-size:8.3px;color:#555;font-weight:400;transform:scaleX(0.79);transform-origin:0 0;">HM-MER</div>
<div class="t" style="left:360.90px;top:300.00px;font-size:8.3px;color:#555;font-weight:400;transform:scaleX(0.79);transform-origin:0 0;">26.03.2018</div>
<div class="t" style="left:407.10px;top:300.00px;font-size:8.3px;color:#555;font-weight:400;transform:scaleX(0.79);transform-origin:0 0;">07.05.2018</div>
<div class="t" style="right:278.00px;top:300.00px;font-size:8.3px;color:#555;font-weight:400;transform:scaleX(0.77);transform-origin:100% 0;">149</div>
<div class="t" style="right:227.70px;top:300.00px;font-size:8.3px;color:#555;font-weight:400;transform:scaleX(0.77);transform-origin:100% 0;">12 100 Kč</div>
<div class="t" style="right:173.70px;top:300.00px;font-size:8.3px;color:#555;font-weight:400;transform:scaleX(0.77);transform-origin:100% 0;">0 Kč</div>
<div class="t" style="right:121.80px;top:300.00px;font-size:8.3px;color:#555;font-weight:400;transform:scaleX(0.77);transform-origin:100% 0;">12 100 Kč</div>
<div class="t" style="right:81.50px;top:300.00px;font-size:8.3px;color:#555;font-weight:400;transform:scaleX(0.77);transform-origin:100% 0;">0,12%</div>
<div style="left:1.00px;top:310.95px;width:721.00px;height:13.95px;background:#eeeeee;"></div>
<div style="left:632.50px;top:311.45px;width:1.20px;height:12.95px;background:#6ccfc5;"></div>
<div class="t" style="left:4.20px;top:314.00px;font-size:8.3px;color:#555;font-weight:400;transform:scaleX(0.76);transform-origin:0 0;">BUKOVEC ekonom s.r.o.</div>
<div class="t" style="left:166.00px;top:314.00px;font-size:8.3px;color:#555;font-weight:400;transform:scaleX(0.79);transform-origin:0 0;">11810161</div>
<div class="t" style="left:204.00px;top:314.00px;font-size:8.3px;color:#555;font-weight:400;transform:scaleX(0.79);transform-origin:0 0;">MV-STU</div>
<div class="t" style="left:360.90px;top:314.00px;font-size:8.3px;color:#555;font-weight:400;transform:scaleX(0.79);transform-origin:0 0;">03.04.2018</div>
<div class="t" style="left:407.10px;top:314.00px;font-size:8.3px;color:#555;font-weight:400;transform:scaleX(0.79);transform-origin:0 0;">17.04.2018</div>
<div class="t" style="right:278.00px;top:314.00px;font-size:8.3px;color:#555;font-weight:400;transform:scaleX(0.77);transform-origin:100% 0;">169</div>
<div class="t" style="right:227.70px;top:314.00px;font-size:8.3px;color:#555;font-weight:400;transform:scaleX(0.77);transform-origin:100% 0;">12 100 Kč</div>
<div class="t" style="right:173.70px;top:314.00px;font-size:8.3px;color:#555;font-weight:400;transform:scaleX(0.77);transform-origin:100% 0;">0 Kč</div>
<div class="t" style="right:121.80px;top:314.00px;font-size:8.3px;color:#555;font-weight:400;transform:scaleX(0.77);transform-origin:100% 0;">12 100 Kč</div>
<div class="t" style="right:81.50px;top:314.00px;font-size:8.3px;color:#555;font-weight:400;transform:scaleX(0.77);transform-origin:100% 0;">0,12%</div>
<div style="left:1.00px;top:324.90px;width:721.00px;height:13.95px;background:#ffffff;"></div>
<div style="left:632.50px;top:325.40px;width:1.20px;height:12.95px;background:#6ccfc5;"></div>
<div class="t" style="left:4.20px;top:328.00px;font-size:8.3px;color:#555;font-weight:400;transform:scaleX(0.788);transform-origin:0 0;">Kolovratník Tomáš</div>
<div class="t" style="left:166.00px;top:328.00px;font-size:8.3px;color:#555;font-weight:400;transform:scaleX(0.79);transform-origin:0 0;">11810173</div>
<div class="t" style="left:204.00px;top:328.00px;font-size:8.3px;color:#555;font-weight:400;transform:scaleX(0.79);transform-origin:0 0;">HM-MER</div>
<div class="t" style="left:360.90px;top:328.00px;font-size:8.3px;color:#555;font-weight:400;transform:scaleX(0.79);transform-origin:0 0;">11.04.2018</div>
<div class="t" style="left:407.10px;top:328.00px;font-size:8.3px;color:#555;font-weight:400;transform:scaleX(0.79);transform-origin:0 0;">02.05.2018</div>
<div class="t" style="right:278.00px;top:328.00px;font-size:8.3px;color:#555;font-weight:400;transform:scaleX(0.77);transform-origin:100% 0;">154</div>
<div class="t" style="right:227.70px;top:328.00px;font-size:8.3px;color:#555;font-weight:400;transform:scaleX(0.77);transform-origin:100% 0;">12 100 Kč</div>
<div class="t" style="right:173.70px;top:328.00px;font-size:8.3px;color:#555;font-weight:400;transform:scaleX(0.77);transform-origin:100% 0;">0 Kč</div>
<div class="t" style="right:121.80px;top:328.00px;font-size:8.3px;color:#555;font-weight:400;transform:scaleX(0.77);transform-origin:100% 0;">12 100 Kč</div>
<div class="t" style="right:81.50px;top:328.00px;font-size:8.3px;color:#555;font-weight:400;transform:scaleX(0.77);transform-origin:100% 0;">0,12%</div>
<div style="left:1.00px;top:338.85px;width:721.00px;height:13.95px;background:#eeeeee;"></div>
<div style="left:632.50px;top:339.35px;width:1.20px;height:12.95px;background:#6ccfc5;"></div>
<div class="t" style="left:4.20px;top:342.00px;font-size:8.3px;color:#555;font-weight:400;transform:scaleX(0.756);transform-origin:0 0;">PRO oil, v.o.s.</div>
<div class="t" style="left:166.00px;top:342.00px;font-size:8.3px;color:#555;font-weight:400;transform:scaleX(0.79);transform-origin:0 0;">11810194</div>
<div class="t" style="left:204.00px;top:342.00px;font-size:8.3px;color:#555;font-weight:400;transform:scaleX(0.79);transform-origin:0 0;">502 V-18000045</div>
<div class="t" style="left:360.90px;top:342.00px;font-size:8.3px;color:#555;font-weight:400;transform:scaleX(0.79);transform-origin:0 0;">19.04.2018</div>
<div class="t" style="left:407.10px;top:342.00px;font-size:8.3px;color:#555;font-weight:400;transform:scaleX(0.79);transform-origin:0 0;">04.06.2018</div>
<div class="t" style="right:278.00px;top:342.00px;font-size:8.3px;color:#555;font-weight:400;transform:scaleX(0.77);transform-origin:100% 0;">121</div>
<div class="t" style="right:227.70px;top:342.00px;font-size:8.3px;color:#555;font-weight:400;transform:scaleX(0.77);transform-origin:100% 0;">11 787 Kč</div>
<div class="t" style="right:173.70px;top:342.00px;font-size:8.3px;color:#555;font-weight:400;transform:scaleX(0.77);transform-origin:100% 0;">0 Kč</div>
<div class="t" style="right:121.80px;top:342.00px;font-size:8.3px;color:#555;font-weight:400;transform:scaleX(0.77);transform-origin:100% 0;">11 787 Kč</div>
<div class="t" style="right:81.50px;top:342.00px;font-size:8.3px;color:#555;font-weight:400;transform:scaleX(0.77);transform-origin:100% 0;">0,12%</div>
<div style="left:1.00px;top:352.80px;width:721.00px;height:13.95px;background:#ffffff;"></div>
<div style="left:632.50px;top:353.30px;width:1.20px;height:12.95px;background:#6ccfc5;"></div>
<div class="t" style="left:4.20px;top:356.00px;font-size:8.3px;color:#555;font-weight:400;transform:scaleX(0.742);transform-origin:0 0;">SOFTWARE OK Příbram</div>
<div class="t" style="left:166.00px;top:356.00px;font-size:8.3px;color:#555;font-weight:400;transform:scaleX(0.79);transform-origin:0 0;">11610171</div>
<div class="t" style="left:204.00px;top:356.00px;font-size:8.3px;color:#555;font-weight:400;transform:scaleX(0.79);transform-origin:0 0;">FS-TLU</div>
<div class="t" style="left:360.90px;top:356.00px;font-size:8.3px;color:#555;font-weight:400;transform:scaleX(0.79);transform-origin:0 0;">18.04.2016</div>
<div class="t" style="left:407.10px;top:356.00px;font-size:8.3px;color:#555;font-weight:400;transform:scaleX(0.79);transform-origin:0 0;">10.06.2016</div>
<div class="t" style="right:278.00px;top:356.00px;font-size:8.3px;color:#555;font-weight:400;transform:scaleX(0.77);transform-origin:100% 0;">845</div>
<div class="t" style="right:227.70px;top:356.00px;font-size:8.3px;color:#555;font-weight:400;transform:scaleX(0.77);transform-origin:100% 0;">272 008 Kč</div>
<div class="t" style="right:173.70px;top:356.00px;font-size:8.3px;color:#555;font-weight:400;transform:scaleX(0.77);transform-origin:100% 0;">260 768 Kč</div>
<div class="t" style="right:121.80px;top:356.00px;font-size:8.3px;color:#555;font-weight:400;transform:scaleX(0.77);transform-origin:100% 0;">11 240 Kč</div>
<div class="t" style="right:81.50px;top:356.00px;font-size:8.3px;color:#555;font-weight:400;transform:scaleX(0.77);transform-origin:100% 0;">0,11%</div>
<div style="left:1.00px;top:366.75px;width:721.00px;height:13.95px;background:#eeeeee;"></div>
<div style="left:632.50px;top:367.25px;width:1.20px;height:12.95px;background:#6ccfc5;"></div>
<div class="t" style="left:4.20px;top:370.00px;font-size:8.3px;color:#555;font-weight:400;transform:scaleX(0.761);transform-origin:0 0;">Rozvad. a říd. syst., sro</div>
<div class="t" style="left:166.00px;top:370.00px;font-size:8.3px;color:#555;font-weight:400;transform:scaleX(0.79);transform-origin:0 0;">11810203</div>
<div class="t" style="left:204.00px;top:370.00px;font-size:8.3px;color:#555;font-weight:400;transform:scaleX(0.79);transform-origin:0 0;">102 V-18000048</div>
<div class="t" style="left:360.90px;top:370.00px;font-size:8.3px;color:#555;font-weight:400;transform:scaleX(0.79);transform-origin:0 0;">25.04.2018</div>
<div class="t" style="left:407.10px;top:370.00px;font-size:8.3px;color:#555;font-weight:400;transform:scaleX(0.79);transform-origin:0 0;">11.05.2018</div>
<div class="t" style="right:278.00px;top:370.00px;font-size:8.3px;color:#555;font-weight:400;transform:scaleX(0.77);transform-origin:100% 0;">145</div>
<div class="t" style="right:227.70px;top:370.00px;font-size:8.3px;color:#555;font-weight:400;transform:scaleX(0.77);transform-origin:100% 0;">9 704 Kč</div>
<div class="t" style="right:173.70px;top:370.00px;font-size:8.3px;color:#555;font-weight:400;transform:scaleX(0.77);transform-origin:100% 0;">0 Kč</div>
<div class="t" style="right:121.80px;top:370.00px;font-size:8.3px;color:#555;font-weight:400;transform:scaleX(0.77);transform-origin:100% 0;">9 704 Kč</div>
<div class="t" style="right:81.50px;top:370.00px;font-size:8.3px;color:#555;font-weight:400;transform:scaleX(0.77);transform-origin:100% 0;">0,10%</div>
<div style="left:1.00px;top:380.70px;width:721.00px;height:13.95px;background:#ffffff;"></div>
<div style="left:632.50px;top:381.20px;width:1.20px;height:12.95px;background:#6ccfc5;"></div>
<div class="t" style="left:4.20px;top:384.00px;font-size:8.3px;color:#555;font-weight:400;transform:scaleX(0.757);transform-origin:0 0;">Banka Haná</div>
<div class="t" style="left:166.00px;top:384.00px;font-size:8.3px;color:#555;font-weight:400;transform:scaleX(0.79);transform-origin:0 0;">11810145</div>
<div class="t" style="left:204.00px;top:384.00px;font-size:8.3px;color:#555;font-weight:400;transform:scaleX(0.79);transform-origin:0 0;">MJ-STU</div>
<div class="t" style="left:360.90px;top:384.00px;font-size:8.3px;color:#555;font-weight:400;transform:scaleX(0.79);transform-origin:0 0;">22.03.2018</div>
<div class="t" style="left:407.10px;top:384.00px;font-size:8.3px;color:#555;font-weight:400;transform:scaleX(0.79);transform-origin:0 0;">09.04.2018</div>
<div class="t" style="right:278.00px;top:384.00px;font-size:8.3px;color:#555;font-weight:400;transform:scaleX(0.77);transform-origin:100% 0;">177</div>
<div class="t" style="right:227.70px;top:384.00px;font-size:8.3px;color:#555;font-weight:400;transform:scaleX(0.77);transform-origin:100% 0;">9 680 Kč</div>
<div class="t" style="right:173.70px;top:384.00px;font-size:8.3px;color:#555;font-weight:400;transform:scaleX(0.77);transform-origin:100% 0;">0 Kč</div>
<div class="t" style="right:121.80px;top:384.00px;font-size:8.3px;color:#555;font-weight:400;transform:scaleX(0.77);transform-origin:100% 0;">9 680 Kč</div>
<div class="t" style="right:81.50px;top:384.00px;font-size:8.3px;color:#555;font-weight:400;transform:scaleX(0.77);transform-origin:100% 0;">0,10%</div>
<div style="left:1.00px;top:394.65px;width:721.00px;height:13.95px;background:#eeeeee;"></div>
<div style="left:632.50px;top:395.15px;width:1.20px;height:12.95px;background:#6ccfc5;"></div>
<div class="t" style="left:4.20px;top:398.00px;font-size:8.3px;color:#555;font-weight:400;transform:scaleX(0.785);transform-origin:0 0;">Podnikatelský klub s.r.o.</div>
<div class="t" style="left:166.00px;top:398.00px;font-size:8.3px;color:#555;font-weight:400;transform:scaleX(0.79);transform-origin:0 0;">11830005</div>
<div class="t" style="left:204.00px;top:398.00px;font-size:8.3px;color:#555;font-weight:400;transform:scaleX(0.79);transform-origin:0 0;">502 V-18000043</div>
<div class="t" style="left:360.90px;top:398.00px;font-size:8.3px;color:#555;font-weight:400;transform:scaleX(0.79);transform-origin:0 0;">16.04.2018</div>
<div class="t" style="left:407.10px;top:398.00px;font-size:8.3px;color:#555;font-weight:400;transform:scaleX(0.79);transform-origin:0 0;">30.04.2018</div>
<div class="t" style="right:278.00px;top:398.00px;font-size:8.3px;color:#555;font-weight:400;transform:scaleX(0.77);transform-origin:100% 0;">156</div>
<div class="t" style="right:227.70px;top:398.00px;font-size:8.3px;color:#555;font-weight:400;transform:scaleX(0.77);transform-origin:100% 0;">6 805 Kč</div>
<div class="t" style="right:173.70px;top:398.00px;font-size:8.3px;color:#555;font-weight:400;transform:scaleX(0.77);transform-origin:100% 0;">0 Kč</div>
<div class="t" style="right:121.80px;top:398.00px;font-size:8.3px;color:#555;font-weight:400;transform:scaleX(0.77);transform-origin:100% 0;">6 805 Kč</div>
<div class="t" style="right:81.50px;top:398.00px;font-size:8.3px;color:#555;font-weight:400;transform:scaleX(0.77);transform-origin:100% 0;">0,07%</div>
<div style="left:1.00px;top:408.60px;width:721.00px;height:13.95px;background:#ffffff;"></div>
<div style="left:632.50px;top:409.10px;width:1.20px;height:12.95px;background:#6ccfc5;"></div>
<div class="t" style="left:4.20px;top:412.00px;font-size:8.3px;color:#555;font-weight:400;transform:scaleX(0.76);transform-origin:0 0;">VaC spol. s r.o.</div>
<div class="t" style="left:166.00px;top:412.00px;font-size:8.3px;color:#555;font-weight:400;transform:scaleX(0.79);transform-origin:0 0;">11810132</div>
<div class="t" style="left:204.00px;top:412.00px;font-size:8.3px;color:#555;font-weight:400;transform:scaleX(0.79);transform-origin:0 0;">102 V-18000029</div>
<div class="t" style="left:360.90px;top:412.00px;font-size:8.3px;color:#555;font-weight:400;transform:scaleX(0.79);transform-origin:0 0;">20.03.2018</div>
<div class="t" style="left:407.10px;top:412.00px;font-size:8.3px;color:#555;font-weight:400;transform:scaleX(0.79);transform-origin:0 0;">18.05.2018</div>
<div class="t" style="right:278.00px;top:412.00px;font-size:8.3px;color:#555;font-weight:400;transform:scaleX(0.77);transform-origin:100% 0;">138</div>
<div class="t" style="right:227.70px;top:412.00px;font-size:8.3px;color:#555;font-weight:400;transform:scaleX(0.77);transform-origin:100% 0;">6 626 Kč</div>
<div class="t" style="right:173.70px;top:412.00px;font-size:8.3px;color:#555;font-weight:400;transform:scaleX(0.77);transform-origin:100% 0;">0 Kč</div>
<div class="t" style="right:121.80px;top:412.00px;font-size:8.3px;color:#555;font-weight:400;transform:scaleX(0.77);transform-origin:100% 0;">6 626 Kč</div>
<div class="t" style="right:81.50px;top:412.00px;font-size:8.3px;color:#555;font-weight:400;transform:scaleX(0.77);transform-origin:100% 0;">0,07%</div>
<div style="left:1.00px;top:422.55px;width:721.00px;height:13.95px;background:#eeeeee;"></div>
<div style="left:632.50px;top:423.05px;width:1.20px;height:12.95px;background:#6ccfc5;"></div>
<div class="t" style="left:4.20px;top:426.00px;font-size:8.3px;color:#555;font-weight:400;transform:scaleX(0.778);transform-origin:0 0;">WSM - Czech Republic s.r.o.</div>
<div class="t" style="left:166.00px;top:426.00px;font-size:8.3px;color:#555;font-weight:400;transform:scaleX(0.79);transform-origin:0 0;">11810140</div>
<div class="t" style="left:204.00px;top:426.00px;font-size:8.3px;color:#555;font-weight:400;transform:scaleX(0.79);transform-origin:0 0;">HM-MER</div>
<div class="t" style="left:360.90px;top:426.00px;font-size:8.3px;color:#555;font-weight:400;transform:scaleX(0.79);transform-origin:0 0;">21.03.2018</div>
<div class="t" style="left:407.10px;top:426.00px;font-size:8.3px;color:#555;font-weight:400;transform:scaleX(0.79);transform-origin:0 0;">06.04.2018</div>
<div class="t" style="right:278.00px;top:426.00px;font-size:8.3px;color:#555;font-weight:400;transform:scaleX(0.77);transform-origin:100% 0;">180</div>
<div class="t" style="right:227.70px;top:426.00px;font-size:8.3px;color:#555;font-weight:400;transform:scaleX(0.77);transform-origin:100% 0;">12 100 Kč</div>
<div class="t" style="right:173.70px;top:426.00px;font-size:8.3px;color:#555;font-weight:400;transform:scaleX(0.77);transform-origin:100% 0;">6 000 Kč</div>
<div class="t" style="right:121.80px;top:426.00px;font-size:8.3px;color:#555;font-weight:400;transform:scaleX(0.77);transform-origin:100% 0;">6 100 Kč</div>
<div class="t" style="right:81.50px;top:426.00px;font-size:8.3px;color:#555;font-weight:400;transform:scaleX(0.77);transform-origin:100% 0;">0,06%</div>
<div style="left:1.00px;top:296.00px;width:721.00px;height:1.00px;background:#1f8a80;"></div>
<div style="left:1.00px;top:436.50px;width:721.00px;height:1.00px;background:#1f8a80;"></div>
<div style="left:1.00px;top:437.50px;width:721.00px;height:12.50px;background:#313131;"></div>
<div style="left:162.00px;top:437.50px;width:1.00px;height:12.50px;background:#555;"></div>
<div style="left:200.00px;top:437.50px;width:1.00px;height:12.50px;background:#555;"></div>
<div style="left:356.90px;top:437.50px;width:1.00px;height:12.50px;background:#555;"></div>
<div style="left:403.10px;top:437.50px;width:1.00px;height:12.50px;background:#555;"></div>
<div style="left:444.50px;top:437.50px;width:1.00px;height:12.50px;background:#555;"></div>
<div style="left:489.00px;top:437.50px;width:1.00px;height:12.50px;background:#555;"></div>
<div style="left:525.00px;top:437.50px;width:1.00px;height:12.50px;background:#555;"></div>
<div style="left:575.30px;top:437.50px;width:1.00px;height:12.50px;background:#555;"></div>
<div style="left:629.30px;top:437.50px;width:1.00px;height:12.50px;background:#555;"></div>
<div style="left:681.20px;top:437.50px;width:1.00px;height:12.50px;background:#555;"></div>
<div class="t" style="left:4.00px;top:441.00px;font-size:8px;color:#fff;font-weight:700;transform:scaleX(0.81);transform-origin:0 0;">Total</div>
<div class="t" style="right:278.00px;top:441.00px;font-size:8px;color:#fff;font-weight:700;transform:scaleX(0.82);transform-origin:100% 0;">38606</div>
<div class="t" style="right:227.70px;top:441.00px;font-size:8px;color:#fff;font-weight:700;transform:scaleX(0.82);transform-origin:100% 0;">44 501 360 Kč</div>
<div class="t" style="right:173.70px;top:441.00px;font-size:8px;color:#fff;font-weight:700;transform:scaleX(0.82);transform-origin:100% 0;">34 573 698 Kč</div>
<div class="t" style="right:121.80px;top:441.00px;font-size:8px;color:#fff;font-weight:700;transform:scaleX(0.82);transform-origin:100% 0;">9 927 662 Kč</div>
<div class="t" style="right:81.50px;top:441.00px;font-size:8px;color:#fff;font-weight:700;transform:scaleX(0.82);transform-origin:100% 0;">100,00%</div>
<div style="left:723.00px;top:297.00px;width:7.50px;height:140.00px;background:#f5f5f5;"></div>
<div style="left:725.20px;top:402.60px;width:4.80px;height:16.00px;background:#c8c8c8;"></div>
<svg style="position:absolute;left:724px;top:275px" width="7" height="5" viewBox="0 0 7 5"><path d="M1 4 L3.5 1.5 L6 4" fill="none" stroke="#777" stroke-width="1"/></svg>
<svg style="position:absolute;left:724px;top:434px" width="7" height="5" viewBox="0 0 7 5"><path d="M1 1 L3.5 3.5 L6 1" fill="none" stroke="#777" stroke-width="1"/></svg>
<div style="left:737.00px;top:0.00px;width:61.00px;height:158.00px;background:#323232;"></div>
<svg style="position:absolute;left:744px;top:4.00px" width="9" height="9" viewBox="0 0 9 9"><rect x="1.2" y="1.2" width="6.6" height="6.6" fill="none" stroke="#c4c4c4" stroke-width="1.4"/></svg>
<div class="t" style="left:758.80px;top:4.00px;font-size:8.2px;color:#e6e6e6;font-weight:400;transform:scaleX(0.95);transform-origin:0 0;">Leden</div>
<svg style="position:absolute;left:744px;top:16.05px" width="9" height="9" viewBox="0 0 9 9"><rect x="1.2" y="1.2" width="6.6" height="6.6" fill="none" stroke="#c4c4c4" stroke-width="1.4"/></svg>
<div class="t" style="left:758.80px;top:16.00px;font-size:8.2px;color:#e6e6e6;font-weight:400;transform:scaleX(0.95);transform-origin:0 0;">Únor</div>
<svg style="position:absolute;left:744px;top:28.10px" width="9" height="9" viewBox="0 0 9 9"><rect x="1.2" y="1.2" width="6.6" height="6.6" fill="none" stroke="#c4c4c4" stroke-width="1.4"/></svg>
<div class="t" style="left:758.80px;top:28.00px;font-size:8.2px;color:#e6e6e6;font-weight:400;transform:scaleX(0.95);transform-origin:0 0;">Březen</div>
<svg style="position:absolute;left:744px;top:40.15px" width="9" height="9" viewBox="0 0 9 9"><rect x="1.2" y="1.2" width="6.6" height="6.6" fill="none" stroke="#c4c4c4" stroke-width="1.4"/></svg>
<div class="t" style="left:758.80px;top:40.00px;font-size:8.2px;color:#e6e6e6;font-weight:400;transform:scaleX(0.95);transform-origin:0 0;">Duben</div>
<svg style="position:absolute;left:744px;top:52.20px" width="9" height="9" viewBox="0 0 9 9"><rect x="1.2" y="1.2" width="6.6" height="6.6" fill="none" stroke="#c4c4c4" stroke-width="1.4"/></svg>
<div class="t" style="left:758.80px;top:52.00px;font-size:8.2px;color:#e6e6e6;font-weight:400;transform:scaleX(0.95);transform-origin:0 0;">Květen</div>
<svg style="position:absolute;left:744px;top:64.25px" width="9" height="9" viewBox="0 0 9 9"><rect x="1.2" y="1.2" width="6.6" height="6.6" fill="none" stroke="#c4c4c4" stroke-width="1.4"/></svg>
<div class="t" style="left:758.80px;top:64.00px;font-size:8.2px;color:#e6e6e6;font-weight:400;transform:scaleX(0.95);transform-origin:0 0;">Červen</div>
<svg style="position:absolute;left:744px;top:76.30px" width="9" height="9" viewBox="0 0 9 9"><rect x="1.2" y="1.2" width="6.6" height="6.6" fill="none" stroke="#c4c4c4" stroke-width="1.4"/></svg>
<div class="t" style="left:758.80px;top:76.00px;font-size:8.2px;color:#e6e6e6;font-weight:400;transform:scaleX(0.95);transform-origin:0 0;">Červenec</div>
<svg style="position:absolute;left:744px;top:88.35px" width="9" height="9" viewBox="0 0 9 9"><rect x="1.2" y="1.2" width="6.6" height="6.6" fill="none" stroke="#c4c4c4" stroke-width="1.4"/></svg>
<div class="t" style="left:758.80px;top:88.00px;font-size:8.2px;color:#e6e6e6;font-weight:400;transform:scaleX(0.95);transform-origin:0 0;">Srpen</div>
<svg style="position:absolute;left:744px;top:100.40px" width="9" height="9" viewBox="0 0 9 9"><rect x="1.2" y="1.2" width="6.6" height="6.6" fill="none" stroke="#c4c4c4" stroke-width="1.4"/></svg>
<div class="t" style="left:758.80px;top:100.00px;font-size:8.2px;color:#e6e6e6;font-weight:400;transform:scaleX(0.95);transform-origin:0 0;">Září</div>
<svg style="position:absolute;left:744px;top:112.45px" width="9" height="9" viewBox="0 0 9 9"><rect x="1.2" y="1.2" width="6.6" height="6.6" fill="none" stroke="#c4c4c4" stroke-width="1.4"/></svg>
<div class="t" style="left:758.80px;top:112.00px;font-size:8.2px;color:#e6e6e6;font-weight:400;transform:scaleX(0.95);transform-origin:0 0;">Říjen</div>
<svg style="position:absolute;left:744px;top:124.50px" width="9" height="9" viewBox="0 0 9 9"><rect x="1.2" y="1.2" width="6.6" height="6.6" fill="none" stroke="#c4c4c4" stroke-width="1.4"/></svg>
<div class="t" style="left:758.80px;top:124.00px;font-size:8.2px;color:#e6e6e6;font-weight:400;transform:scaleX(0.95);transform-origin:0 0;">Listopad</div>
<svg style="position:absolute;left:744px;top:136.55px" width="9" height="9" viewBox="0 0 9 9"><rect x="1.2" y="1.2" width="6.6" height="6.6" fill="none" stroke="#c4c4c4" stroke-width="1.4"/></svg>
<div class="t" style="left:758.80px;top:136.00px;font-size:8.2px;color:#e6e6e6;font-weight:400;transform:scaleX(0.95);transform-origin:0 0;">Prosinec</div>
<div style="left:737.00px;top:163.00px;width:61.00px;height:83.00px;background:#323232;"></div>
<svg style="position:absolute;left:744px;top:169.60px" width="9" height="9" viewBox="0 0 9 9"><rect x="1.2" y="1.2" width="6.6" height="6.6" fill="none" stroke="#c4c4c4" stroke-width="1.4"/></svg>
<div class="t" style="left:758.80px;top:168.00px;font-size:10px;color:#e6e6e6;font-weight:400;transform:scaleX(0.86);transform-origin:0 0;">1.kv.</div>
<svg style="position:absolute;left:744px;top:182.65px" width="9" height="9" viewBox="0 0 9 9"><rect x="1.2" y="1.2" width="6.6" height="6.6" fill="none" stroke="#c4c4c4" stroke-width="1.4"/></svg>
<div class="t" style="left:758.80px;top:181.00px;font-size:10px;color:#e6e6e6;font-weight:400;transform:scaleX(0.86);transform-origin:0 0;">2.kv.</div>
<svg style="position:absolute;left:744px;top:195.70px" width="9" height="9" viewBox="0 0 9 9"><rect x="1.2" y="1.2" width="6.6" height="6.6" fill="none" stroke="#c4c4c4" stroke-width="1.4"/></svg>
<div class="t" style="left:758.80px;top:194.00px;font-size:10px;color:#e6e6e6;font-weight:400;transform:scaleX(0.86);transform-origin:0 0;">3.kv.</div>
<svg style="position:absolute;left:744px;top:208.75px" width="9" height="9" viewBox="0 0 9 9"><rect x="1.2" y="1.2" width="6.6" height="6.6" fill="none" stroke="#c4c4c4" stroke-width="1.4"/></svg>
<div class="t" style="left:758.80px;top:207.00px;font-size:10px;color:#e6e6e6;font-weight:400;transform:scaleX(0.86);transform-origin:0 0;">4.kv.</div>
<div style="left:737.00px;top:250.80px;width:61.00px;height:197.70px;background:#323232;"></div>
<svg style="position:absolute;left:744px;top:257.60px" width="9" height="9" viewBox="0 0 9 9"><rect x="1.2" y="1.2" width="6.6" height="6.6" fill="none" stroke="#c4c4c4" stroke-width="1.4"/></svg>
<div class="t" style="left:758.80px;top:256.00px;font-size:11px;color:#e6e6e6;font-weight:400;transform:scaleX(0.88);transform-origin:0 0;-webkit-text-stroke:0;">2018</div>
<svg style="position:absolute;left:744px;top:272.20px" width="9" height="9" viewBox="0 0 9 9"><rect x="1.2" y="1.2" width="6.6" height="6.6" fill="none" stroke="#c4c4c4" stroke-width="1.4"/></svg>
<div class="t" style="left:758.80px;top:271.00px;font-size:11px;color:#e6e6e6;font-weight:400;transform:scaleX(0.88);transform-origin:0 0;-webkit-text-stroke:0;">2017</div>
<svg style="position:absolute;left:744px;top:286.80px" width="9" height="9" viewBox="0 0 9 9"><rect x="1.2" y="1.2" width="6.6" height="6.6" fill="none" stroke="#c4c4c4" stroke-width="1.4"/></svg>
<div class="t" style="left:758.80px;top:285.00px;font-size:11px;color:#e6e6e6;font-weight:400;transform:scaleX(0.88);transform-origin:0 0;-webkit-text-stroke:0;">2016</div>
<svg style="position:absolute;left:744px;top:301.40px" width="9" height="9" viewBox="0 0 9 9"><rect x="1.2" y="1.2" width="6.6" height="6.6" fill="none" stroke="#c4c4c4" stroke-width="1.4"/></svg>
<div class="t" style="left:758.80px;top:300.00px;font-size:11px;color:#e6e6e6;font-weight:400;transform:scaleX(0.88);transform-origin:0 0;-webkit-text-stroke:0;">2015</div>
<svg style="position:absolute;left:744px;top:316.00px" width="9" height="9" viewBox="0 0 9 9"><rect x="1.2" y="1.2" width="6.6" height="6.6" fill="none" stroke="#c4c4c4" stroke-width="1.4"/></svg>
<div class="t" style="left:758.80px;top:314.00px;font-size:11px;color:#e6e6e6;font-weight:400;transform:scaleX(0.88);transform-origin:0 0;-webkit-text-stroke:0;">2014</div>
<svg style="position:absolute;left:744px;top:330.60px" width="9" height="9" viewBox="0 0 9 9"><rect x="1.2" y="1.2" width="6.6" height="6.6" fill="none" stroke="#c4c4c4" stroke-width="1.4"/></svg>
<div class="t" style="left:758.80px;top:329.00px;font-size:11px;color:#e6e6e6;font-weight:400;transform:scaleX(0.88);transform-origin:0 0;-webkit-text-stroke:0;">2013</div>
<svg style="position:absolute;left:744px;top:345.20px" width="9" height="9" viewBox="0 0 9 9"><rect x="1.2" y="1.2" width="6.6" height="6.6" fill="none" stroke="#c4c4c4" stroke-width="1.4"/></svg>
<div class="t" style="left:758.80px;top:344.00px;font-size:11px;color:#e6e6e6;font-weight:400;transform:scaleX(0.88);transform-origin:0 0;-webkit-text-stroke:0;">2012</div>
<svg style="position:absolute;left:744px;top:359.80px" width="9" height="9" viewBox="0 0 9 9"><rect x="1.2" y="1.2" width="6.6" height="6.6" fill="none" stroke="#c4c4c4" stroke-width="1.4"/></svg>
<div class="t" style="left:758.80px;top:358.00px;font-size:11px;color:#e6e6e6;font-weight:400;transform:scaleX(0.88);transform-origin:0 0;-webkit-text-stroke:0;">2011</div>
<svg style="position:absolute;left:744px;top:374.40px" width="9" height="9" viewBox="0 0 9 9"><rect x="1.2" y="1.2" width="6.6" height="6.6" fill="none" stroke="#c4c4c4" stroke-width="1.4"/></svg>
<div class="t" style="left:758.80px;top:373.00px;font-size:11px;color:#e6e6e6;font-weight:400;transform:scaleX(0.88);transform-origin:0 0;-webkit-text-stroke:0;">2010</div>
<svg style="position:absolute;left:744px;top:389.00px" width="9" height="9" viewBox="0 0 9 9"><rect x="1.2" y="1.2" width="6.6" height="6.6" fill="none" stroke="#c4c4c4" stroke-width="1.4"/></svg>
<div class="t" style="left:758.80px;top:387.00px;font-size:11px;color:#e6e6e6;font-weight:400;transform:scaleX(0.88);transform-origin:0 0;-webkit-text-stroke:0;">2009</div>
<svg style="position:absolute;left:744px;top:403.60px" width="9" height="9" viewBox="0 0 9 9"><rect x="1.2" y="1.2" width="6.6" height="6.6" fill="none" stroke="#c4c4c4" stroke-width="1.4"/></svg>
<div class="t" style="left:758.80px;top:402.00px;font-size:11px;color:#e6e6e6;font-weight:400;transform:scaleX(0.88);transform-origin:0 0;-webkit-text-stroke:0;">2008</div>
<svg style="position:absolute;left:744px;top:418.20px" width="9" height="9" viewBox="0 0 9 9"><rect x="1.2" y="1.2" width="6.6" height="6.6" fill="none" stroke="#c4c4c4" stroke-width="1.4"/></svg>
<div class="t" style="left:758.80px;top:417.00px;font-size:11px;color:#e6e6e6;font-weight:400;transform:scaleX(0.88);transform-origin:0 0;-webkit-text-stroke:0;">2007</div>
<svg style="position:absolute;left:744px;top:432.80px" width="9" height="9" viewBox="0 0 9 9"><rect x="1.2" y="1.2" width="6.6" height="6.6" fill="none" stroke="#c4c4c4" stroke-width="1.4"/></svg>
<div class="t" style="left:758.80px;top:431.00px;font-size:11px;color:#e6e6e6;font-weight:400;transform:scaleX(0.88);transform-origin:0 0;-webkit-text-stroke:0;">2006</div>
</body></html>
